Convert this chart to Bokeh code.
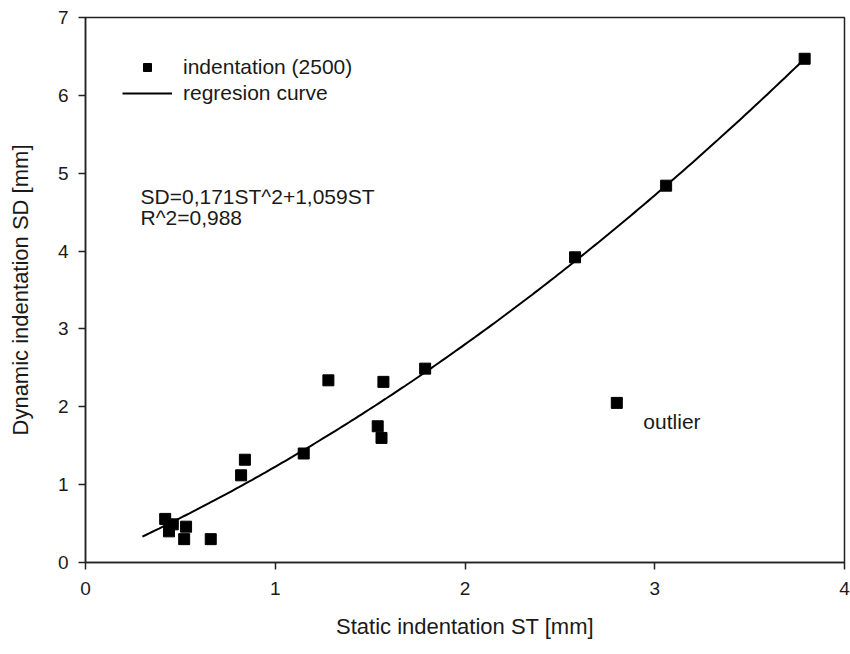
from bokeh.plotting import figure
from bokeh.models import Range1d, FixedTicker, Legend, LegendItem, Label
from bokeh.embed import file_html
from bokeh.resources import INLINE
import numpy as np

# measured points (static ST, dynamic SD) in mm
st_values = [0.42, 0.46, 0.44, 0.53, 0.52, 0.66, 0.82, 0.84, 1.15, 1.28,
             1.54, 1.56, 1.57, 1.79, 2.58, 2.80, 3.06, 3.79]
sd_values = [0.56, 0.49, 0.40, 0.46, 0.30, 0.30, 1.12, 1.32, 1.40, 2.34,
             1.75, 1.60, 2.32, 2.49, 3.92, 2.05, 4.84, 6.47]

# regression curve stated on the chart: SD = 0.171 ST^2 + 1.059 ST
coef_a = 0.171
coef_b = 1.059
curve_start = 0.30
curve_end = 3.79

x_ticks = [0, 1, 2, 3, 4]
y_ticks = [0, 1, 2, 3, 4, 5, 6, 7]

FONT = "Liberation Sans"
TXT = "#1a1a1a"

p = figure(width=850, height=654, output_backend="svg", toolbar_location=None,
           x_range=Range1d(0, 4), y_range=Range1d(0, 7),
           min_border_left=85, min_border_right=6, min_border_top=17,
           min_border_bottom=92)
p.grid.visible = False
p.outline_line_color = "#222222"
p.outline_line_width = 1.5
p.background_fill_color = "white"
p.border_fill_color = "white"

curve_x = np.linspace(curve_start, curve_end, 200)
curve_y = coef_a * curve_x ** 2 + coef_b * curve_x
r_line = p.line(curve_x, curve_y, line_color="black", line_width=2)
r_pts = p.scatter(st_values, sd_values, marker="square", size=11,
                  fill_color="black", line_color="black")

for ax in (p.xaxis[0], p.yaxis[0]):
    ax.axis_line_width = 1.5
    ax.axis_line_color = "#222222"
    ax.major_tick_line_width = 1.5
    ax.major_tick_line_color = "#222222"
    ax.major_tick_in = 0
    ax.major_tick_out = 7
    ax.minor_tick_line_color = None
    ax.major_label_text_font = FONT
    ax.major_label_text_font_size = "19px"
    ax.major_label_text_color = TXT
    ax.axis_label_text_font = FONT
    ax.axis_label_text_font_size = "22px"
    ax.axis_label_text_font_style = "normal"
    ax.axis_label_text_color = TXT

p.xaxis.ticker = FixedTicker(ticks=x_ticks)
p.yaxis.ticker = FixedTicker(ticks=y_ticks)
p.xaxis.axis_label = "Static indentation ST [mm]"
p.yaxis.axis_label = "Dynamic indentation SD [mm]"
p.xaxis.major_label_standoff = 12
p.yaxis.major_label_standoff = 10
p.xaxis.axis_label_standoff = 16
p.yaxis.axis_label_standoff = 22

legend = Legend(items=[LegendItem(label="indentation (2500)", renderers=[r_pts]),
                       LegendItem(label="regresion curve", renderers=[r_line])],
                location=(37, 457), padding=0, margin=0, spacing=2,
                glyph_width=50, glyph_height=20, label_height=20,
                label_standoff=11, border_line_alpha=0, background_fill_alpha=0,
                label_text_font=FONT, label_text_font_size="21px",
                label_text_color=TXT)
p.add_layout(legend, "center")

for txt, yy in (("SD=0,171ST^2+1,059ST", 4.70), ("R^2=0,988", 4.43)):
    p.add_layout(Label(x=0.29, y=yy, text=txt, text_font=FONT,
                       text_font_size="21px", text_color=TXT,
                       text_baseline="middle"))
p.add_layout(Label(x=2.94, y=1.81, text="outlier", text_font=FONT,
                   text_font_size="21px", text_color=TXT,
                   text_baseline="middle"))

open("out.html", "w").write(file_html(p, INLINE))
